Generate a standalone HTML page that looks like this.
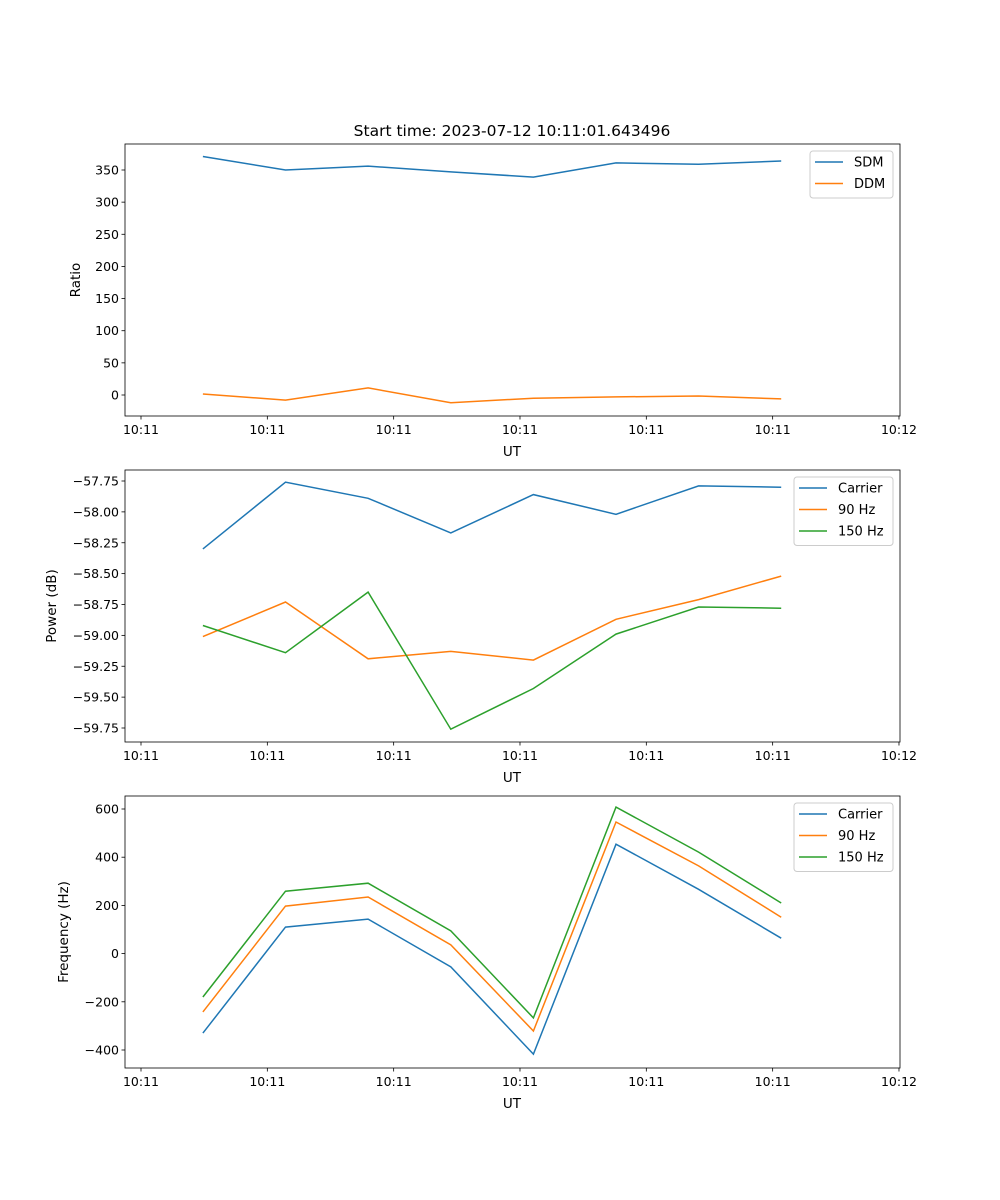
<!DOCTYPE html>
<html><head><meta charset="utf-8"><style>
body{margin:0;background:#fff;}
svg{display:block;font-family:"DejaVu Sans","Liberation Sans",sans-serif;}
</style></head><body>
<svg id="fig" width="1000" height="1200" viewBox="0 0 1000 1200">
<rect width="1000" height="1200" fill="#fff"/>
<text x="512" y="136" font-size="15.5" text-anchor="middle">Start time: 2023-07-12 10:11:01.643496</text>
</svg>
<script>
const pointTimes = [1.49, 2.144, 2.798, 3.452, 4.106, 4.76, 5.414, 6.068];
const xTicks = [1, 2, 3, 4, 5, 6, 7];
const xTickLabels = ["10:11","10:11","10:11","10:11","10:11","10:11","10:12"];
const sdm = [371, 350, 356, 347, 339, 361, 359, 364];
const ddm = [1.5, -8, 11, -12, -5, -3, -1.5, -6];
const ratioTicks = [0, 50, 100, 150, 200, 250, 300, 350];
const powCarrier = [-58.30, -57.76, -57.89, -58.17, -57.86, -58.02, -57.79, -57.80];
const pow90 = [-59.01, -58.73, -59.19, -59.13, -59.20, -58.87, -58.71, -58.52];
const pow150 = [-58.92, -59.14, -58.65, -59.76, -59.43, -58.99, -58.77, -58.78];
const powTicks = [-59.75, -59.5, -59.25, -59.0, -58.75, -58.5, -58.25, -58.0, -57.75];
const powTickLabels = ["−59.75","−59.50","−59.25","−59.00","−58.75","−58.50","−58.25","−58.00","−57.75"];
const freqCarrier = [-330, 110, 143, -55, -417, 454, 267, 64];
const freq90 = [-242, 197, 235, 36, -321, 546, 364, 151];
const freq150 = [-180, 259, 292, 94, -267, 608, 421, 210];
const freqTicks = [-400, -200, 0, 200, 400, 600];
const freqTickLabels = ["−400","−200","0","200","400","600"];

const svg = document.getElementById('fig');
const NS = 'http://www.w3.org/2000/svg';
function mk(tag, attrs, parent){const e=document.createElementNS(NS,tag);for(const k in attrs)e.setAttribute(k,attrs[k]);(parent||svg).appendChild(e);return e;}
const X0=125, X1=900;
function xs(t){return 141+(t-1)*126.33;}
const colors={blue:'#1f77b4',orange:'#ff7f0e',green:'#2ca02c'};

function panel(o){
  const g=mk('g',{});
  
  
  const ys=v=>o.yA+(v-o.vA)*(o.yB-o.yA)/(o.vB-o.vA);
  o.series.forEach(s=>{
    const p=mk('polyline',{points:s.vals.map((v,i)=>xs(pointTimes[i]).toFixed(1)+','+ys(v).toFixed(1)).join(' '),fill:'none',stroke:s.color,'stroke-width':1.5},g);
    
    
  });
  const fr=mk('rect',{x:X0,y:o.top,width:X1-X0,height:o.bot-o.top,fill:'none',stroke:'#000','stroke-width':0.8},g);
  
  
  xTicks.forEach((t,i)=>{
    const x=xs(t);
    mk('line',{x1:x,x2:x,y1:o.bot,y2:o.bot+3.5,stroke:'#000','stroke-width':0.8},g);
    const tx=mk('text',{x:x,y:o.bot+18,'font-size':12.5,'text-anchor':'middle'},g);
    tx.textContent=xTickLabels[i];
    
    
  });
  const xl=mk('text',{x:512,y:o.bot+40,'font-size':13.5,'text-anchor':'middle'},g);
  xl.textContent='UT';
  
  
  o.ticks.forEach((v,i)=>{
    const y=ys(v);
    mk('line',{x1:X0-3.5,x2:X0,y1:y,y2:y,stroke:'#000','stroke-width':0.8},g);
    const tx=mk('text',{x:X0-6,y:y+4.5,'font-size':12.5,'text-anchor':'end'},g);
    tx.textContent=o.tickLabels?o.tickLabels[i]:String(v);
    
    
  });
  const yl=mk('text',{x:o.ylx,y:(o.top+o.bot)/2,'font-size':13.5,'text-anchor':'middle',transform:`rotate(-90 ${o.ylx} ${(o.top+o.bot)/2})`},g);
  yl.textContent=o.ylabel;
  
  
  const lg=mk('g',{},g);
  
  
  const lh=o.series.length*21.5+4;
  mk('rect',{x:o.lx,y:o.top+7,width:X1-7-o.lx,height:lh,fill:'#fff',stroke:'#ccc',rx:3},lg);
  o.series.forEach((s,i)=>{
    const y=o.top+18+i*21.5;
    mk('line',{x1:o.lx+5,x2:o.lx+33,y1:y,y2:y,stroke:s.color,'stroke-width':1.5},lg);
    const t=mk('text',{x:o.lx+44,y:y+4.5,'font-size':13},lg);
    t.textContent=s.label;
    
    
  });
}
panel({name:'ratio-panel',top:144,bot:416,vA:0,yA:395,vB:350,yB:170,ticks:ratioTicks,ylabel:'Ratio',ylx:80,lx:810,
  series:[{name:'sdm-line',label:'SDM',vals:sdm,color:colors.blue},{name:'ddm-line',label:'DDM',vals:ddm,color:colors.orange}]});
panel({name:'power-panel',top:470,bot:742,vA:-57.75,yA:481,vB:-59.75,yB:728,ticks:powTicks,tickLabels:powTickLabels,ylabel:'Power (dB)',ylx:56,lx:794,
  series:[{name:'power-carrier-line',label:'Carrier',vals:powCarrier,color:colors.blue},{name:'power-90hz-line',label:'90 Hz',vals:pow90,color:colors.orange},{name:'power-150hz-line',label:'150 Hz',vals:pow150,color:colors.green}]});
panel({name:'frequency-panel',top:796,bot:1068,vA:600,yA:809,vB:-400,yB:1050,ticks:freqTicks,tickLabels:freqTickLabels,ylabel:'Frequency (Hz)',ylx:68,lx:794,
  series:[{name:'freq-carrier-line',label:'Carrier',vals:freqCarrier,color:colors.blue},{name:'freq-90hz-line',label:'90 Hz',vals:freq90,color:colors.orange},{name:'freq-150hz-line',label:'150 Hz',vals:freq150,color:colors.green}]});
</script>
</body></html>
